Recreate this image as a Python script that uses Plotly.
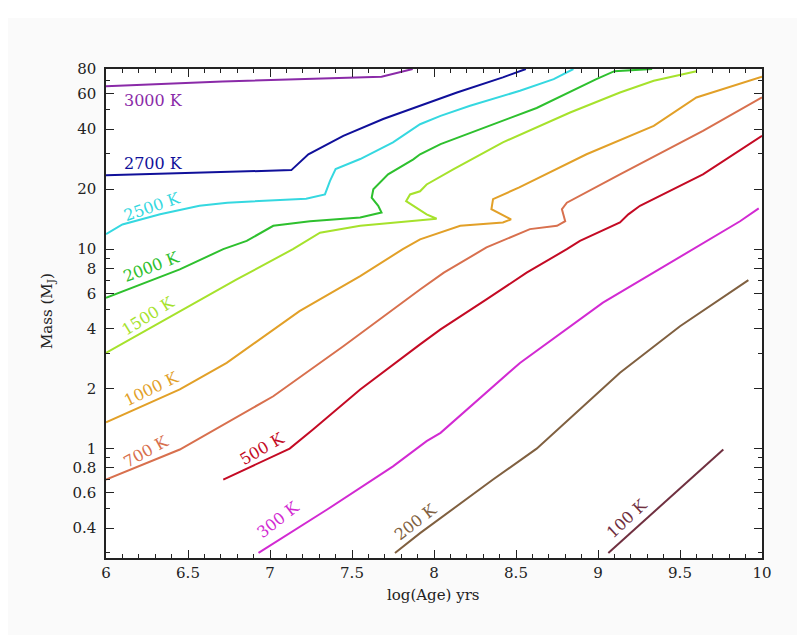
import numpy as np
import plotly.graph_objects as go

# ---------------- data (log age [yr], mass [M_J]) ----------------
age_3000 = [6.0, 6.71, 7.68, 7.75, 7.87]
mass_3000 = [65.6, 69.3, 73.1, 75.4, 80]

age_2700 = [6.0, 7.13, 7.234, 7.447, 7.69, 7.915, 8.14, 8.42, 8.56]
mass_2700 = [23.5, 24.9, 29.9, 37.0, 44.9, 52.3, 61.0, 72.6, 80]

age_2500 = [6.0, 6.10, 6.33, 6.57, 6.74, 7.22, 7.335, 7.366, 7.40, 7.55, 7.75, 7.915, 8.04, 8.22, 8.524, 8.73, 8.85]
mass_2500 = [11.9, 13.3, 14.95, 16.5, 17.1, 17.9, 18.8, 22.0, 25.2, 28.3, 34.3, 42.3, 46.6, 52.3, 62.2, 71.2, 80]

age_2000 = [6.0, 6.45, 6.715, 6.858, 7.02, 7.244, 7.55, 7.68, 7.66, 7.62, 7.63, 7.72, 7.874, 7.915, 8.04, 8.28, 8.626, 8.99, 9.1, 9.33]
mass_2000 = [5.71, 7.92, 10.0, 11.0, 13.1, 13.8, 14.4, 15.25, 16.5, 18.1, 19.95, 23.7, 28.2, 29.9, 33.6, 39.9, 51.0, 71.2, 78.0, 80]

age_1500 = [6.0, 6.45, 6.797, 7.14, 7.305, 7.55, 7.915, 8.016, 7.955, 7.83, 7.854, 7.915, 7.955, 8.04, 8.12, 8.42, 8.83, 9.134, 9.34, 9.60]
mass_1500 = [3.02, 4.89, 7.05, 10.0, 12.1, 13.1, 13.9, 14.2, 14.95, 17.4, 18.8, 19.5, 21.1, 23.2, 25.2, 34.3, 48.4, 61.0, 69.8, 78.0]

age_1000 = [6.0, 6.45, 6.736, 7.18, 7.55, 7.81, 7.915, 8.16, 8.42, 8.47, 8.35, 8.36, 8.52, 8.93, 9.34, 9.60, 10.0]
mass_1000 = [1.355, 1.98, 2.69, 4.89, 7.33, 10.0, 11.2, 13.1, 13.6, 14.1, 15.85, 17.8, 20.4, 29.9, 41.5, 57.6, 73.1]

age_700 = [6.0, 6.45, 7.02, 7.447, 7.915, 8.06, 8.32, 8.585, 8.75, 8.80, 8.78, 8.81, 9.134, 9.64, 10.0]
mass_700 = [0.699, 0.99, 1.83, 3.26, 6.28, 7.62, 10.2, 12.6, 13.1, 13.8, 15.85, 17.1, 23.7, 39.2, 57.6]

age_500 = [6.715, 7.12, 7.264, 7.55, 7.915, 8.04, 8.32, 8.565, 8.81, 8.89, 9.134, 9.185, 9.256, 9.64, 10.0]
mass_500 = [0.70, 1.0, 1.25, 1.98, 3.33, 3.96, 5.6, 7.62, 10.0, 11.0, 13.6, 14.95, 16.5, 23.7, 37.0]

age_300 = [6.93, 7.346, 7.75, 7.955, 8.04, 8.524, 9.03, 9.58, 9.866, 9.98]
mass_300 = [0.30, 0.494, 0.815, 1.09, 1.2, 2.69, 5.39, 10.0, 13.8, 16.0]

age_200 = [7.762, 7.915, 8.36, 8.626, 9.134, 9.5, 9.917]
mass_200 = [0.30, 0.377, 0.70, 1.0, 2.4, 4.11, 7.0]

age_100 = [9.063, 9.764]
mass_100 = [0.30, 0.99]

labels = ["3000 K", "2700 K", "2500 K", "2000 K", "1500 K", "1000 K", "700 K", "500 K", "300 K", "200 K", "100 K"]
colors = ["#8a2aa8", "#10109a", "#35d8e0", "#2ec02e", "#a6e22c", "#e2a028", "#d8704e", "#c40a24", "#d22ad2", "#806040", "#703040"]
ages = [age_3000, age_2700, age_2500, age_2000, age_1500, age_1000, age_700, age_500, age_300, age_200, age_100]
masses = [mass_3000, mass_2700, mass_2500, mass_2000, mass_1500, mass_1000, mass_700, mass_500, mass_300, mass_200, mass_100]

# label positions (log age, log10 mass) and angles
label_x = [6.287, 6.287, 6.284, 6.280, 6.262, 6.280, 6.244, 6.954, 7.049, 7.890, 9.177]
label_logy = [1.744, 1.429, 1.212, 0.912, 0.665, 0.302, -0.015, 0.0, -0.356, -0.363, -0.352]
label_angle = [0, 0, -19, -21, -32, -26, -29, -30, -38, -38, -43]

x_tickvals = [6, 6.5, 7, 7.5, 8, 8.5, 9, 9.5, 10]
x_ticktext = ["6", "6.5", "7", "7.5", "8", "8.5", "9", "9.5", "10"]
y_tickvals = [0.4, 0.6, 0.8, 1, 2, 4, 6, 8, 10, 20, 40, 60, 80]
y_ticktext = ["0.4", "0.6", "0.8", "1", "2", "4", "6", "8", "10", "20", "40", "60", "80"]
y_minor = [0.3, 0.5, 0.7, 0.9, 3, 5, 7, 9, 30, 50, 70]

FONT = "DejaVu Serif"

fig = go.Figure()
for a, m, c in zip(ages, masses, colors):
    fig.add_trace(go.Scatter(x=a, y=m, mode="lines", line=dict(color=c, width=2),
                             showlegend=False, hoverinfo="skip"))

for t, x, ly, ang, c in zip(labels, label_x, label_logy, label_angle, colors):
    fig.add_annotation(x=x, y=ly, xref="x", yref="y", text=t, showarrow=False,
                       textangle=ang, xanchor="center", yanchor="middle",
                       font=dict(family=FONT, size=16, color=c))

fig.add_annotation(x=0.499, y=-0.075, xref="paper", yref="paper", text="log(Age) yrs",
                   showarrow=False, xanchor="center", yanchor="middle",
                   font=dict(family=FONT, size=15, color="#222"))
fig.add_annotation(x=-0.09, y=0.505, xref="paper", yref="paper", text="Mass (M<sub>J</sub>)",
                   showarrow=False, textangle=-90, xanchor="center", yanchor="middle",
                   font=dict(family=FONT, size=15, color="#222"))

axis_common = dict(showline=True, linecolor="#222", linewidth=1.5, mirror="allticks",
                   ticks="inside", tickcolor="#222", tickwidth=1.2, ticklen=8,
                   showgrid=False, zeroline=False,
                   tickfont=dict(family=FONT, size=15, color="#222"))

fig.update_xaxes(range=[6, 10], tickmode="array", tickvals=x_tickvals, ticktext=x_ticktext,
                 minor=dict(ticks="inside", dtick=0.1, tick0=6, ticklen=4, tickcolor="#222", tickwidth=1.2, showgrid=False),
                 **axis_common)
fig.update_yaxes(type="log", range=[np.log10(0.283), np.log10(80)], tickmode="array",
                 tickvals=y_tickvals, ticktext=y_ticktext, ticklabelstandoff=5,
                 minor=dict(ticks="inside", tickmode="array", tickvals=y_minor, ticklen=4, tickcolor="#222", tickwidth=1.2, showgrid=False),
                 **axis_common)

# white strip at the very top of the page (as in the reference)
PH = 489.0
fig.add_shape(type="rect", xref="paper", yref="paper", x0=-0.2, x1=1.2,
              y0=1 + (61 - 10) / PH, y1=1 + 62 / PH, fillcolor="white", line_width=0, layer="below")

fig.update_layout(width=797, height=627, margin=dict(l=98, r=43, t=61, b=77),
                  paper_bgcolor="#fafafa", plot_bgcolor="white")
fig.write_html("out.html")
